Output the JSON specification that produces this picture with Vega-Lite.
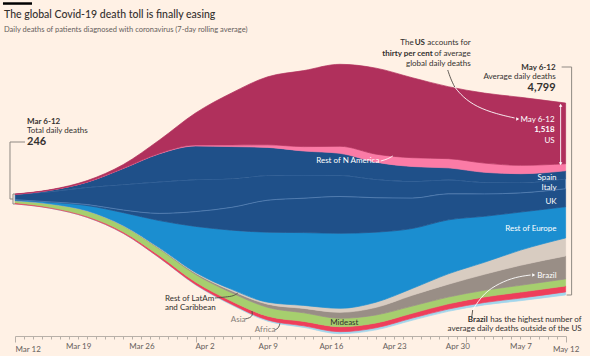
{
  "$schema": "https://vega.github.io/schema/vega-lite/v6.json",
  "width": 551,
  "height": 296,
  "autosize": {"type": "none"},
  "padding": {"left": 15, "top": 40, "right": 24, "bottom": 20},
  "background": "#fff1e5",
  "config": {"view": {"stroke": null}, "font": "Lato", "text": {"font": "Lato"}},
  "resolve": {"axis": {"x": "independent"}, "scale": {"y": "independent"}},
  "datasets": {
    "regions": [
      {"region": "Africa", "rank": 1}, {"region": "Asia", "rank": 2}, {"region": "Mideast", "rank": 3},
      {"region": "Brazil", "rank": 4}, {"region": "Rest of LatAm and Caribbean", "rank": 5},
      {"region": "Rest of Europe", "rank": 6}, {"region": "UK", "rank": 7}, {"region": "Italy", "rank": 8},
      {"region": "Spain", "rank": 9}, {"region": "Rest of N America", "rank": 10}, {"region": "US", "rank": 11}
    ],
    "deaths": [
      {"date": "2020-03-12", "Africa": 1, "Asia": 28, "Mideast": 55, "Brazil": 0, "Rest of LatAm and Caribbean": 0, "Rest of Europe": 20, "UK": 1, "Italy": 130, "Spain": 4, "Rest of N America": 1, "US": 6},
      {"date": "2020-03-16", "Africa": 2, "Asia": 20, "Mideast": 90, "Brazil": 0, "Rest of LatAm and Caribbean": 1, "Rest of Europe": 45, "UK": 5, "Italy": 260, "Spain": 35, "Rest of N America": 2, "US": 12},
      {"date": "2020-03-20", "Africa": 3, "Asia": 25, "Mideast": 135, "Brazil": 1, "Rest of LatAm and Caribbean": 3, "Rest of Europe": 130, "UK": 25, "Italy": 430, "Spain": 130, "Rest of N America": 4, "US": 35},
      {"date": "2020-03-24", "Africa": 5, "Asia": 35, "Mideast": 150, "Brazil": 5, "Rest of LatAm and Caribbean": 6, "Rest of Europe": 320, "UK": 65, "Italy": 640, "Spain": 400, "Rest of N America": 8, "US": 90},
      {"date": "2020-03-28", "Africa": 8, "Asia": 50, "Mideast": 170, "Brazil": 15, "Rest of LatAm and Caribbean": 12, "Rest of Europe": 680, "UK": 180, "Italy": 790, "Spain": 700, "Rest of N America": 15, "US": 330},
      {"date": "2020-04-01", "Africa": 15, "Asia": 60, "Mideast": 190, "Brazil": 30, "Rest of LatAm and Caribbean": 20, "Rest of Europe": 1150, "UK": 370, "Italy": 800, "Spain": 840, "Rest of N America": 25, "US": 800},
      {"date": "2020-04-05", "Africa": 22, "Asia": 75, "Mideast": 210, "Brazil": 50, "Rest of LatAm and Caribbean": 35, "Rest of Europe": 1480, "UK": 570, "Italy": 720, "Spain": 800, "Rest of N America": 40, "US": 1300},
      {"date": "2020-04-09", "Africa": 30, "Asia": 95, "Mideast": 220, "Brazil": 80, "Rest of LatAm and Caribbean": 50, "Rest of Europe": 1750, "UK": 800, "Italy": 620, "Spain": 700, "Rest of N America": 65, "US": 1700},
      {"date": "2020-04-13", "Africa": 40, "Asia": 110, "Mideast": 215, "Brazil": 110, "Rest of LatAm and Caribbean": 75, "Rest of Europe": 1820, "UK": 860, "Italy": 580, "Spain": 600, "Rest of N America": 110, "US": 1900},
      {"date": "2020-04-17", "Africa": 50, "Asia": 125, "Mideast": 210, "Brazil": 150, "Rest of LatAm and Caribbean": 100, "Rest of Europe": 1875, "UK": 920, "Italy": 530, "Spain": 550, "Rest of N America": 175, "US": 2050},
      {"date": "2020-04-21", "Africa": 52, "Asia": 120, "Mideast": 200, "Brazil": 190, "Rest of LatAm and Caribbean": 130, "Rest of Europe": 1750, "UK": 860, "Italy": 460, "Spain": 430, "Rest of N America": 200, "US": 2150},
      {"date": "2020-04-25", "Africa": 55, "Asia": 120, "Mideast": 180, "Brazil": 270, "Rest of LatAm and Caribbean": 170, "Rest of Europe": 1500, "UK": 760, "Italy": 420, "Spain": 370, "Rest of N America": 220, "US": 2000},
      {"date": "2020-04-29", "Africa": 57, "Asia": 130, "Mideast": 170, "Brazil": 320, "Rest of LatAm and Caribbean": 260, "Rest of Europe": 1350, "UK": 650, "Italy": 350, "Spain": 300, "Rest of N America": 230, "US": 1800},
      {"date": "2020-05-03", "Africa": 60, "Asia": 140, "Mideast": 165, "Brazil": 400, "Rest of LatAm and Caribbean": 300, "Rest of Europe": 1150, "UK": 560, "Italy": 290, "Spain": 250, "Rest of N America": 230, "US": 1750},
      {"date": "2020-05-07", "Africa": 65, "Asia": 150, "Mideast": 170, "Brazil": 500, "Rest of LatAm and Caribbean": 380, "Rest of Europe": 950, "UK": 480, "Italy": 260, "Spain": 220, "Rest of N America": 210, "US": 1700},
      {"date": "2020-05-12", "Africa": 75, "Asia": 150, "Mideast": 175, "Brazil": 575, "Rest of LatAm and Caribbean": 450, "Rest of Europe": 780, "UK": 450, "Italy": 250, "Spain": 200, "Rest of N America": 175, "US": 1518}
    ]
  },
  "encoding": {
    "x": {"field": "date", "type": "temporal", "axis": null,
      "scale": {"type": "utc", "nice": false, "domain": [{"year": 2020, "month": "mar", "date": 12, "utc": true}, {"year": 2020, "month": "may", "date": 12, "hours": 1, "utc": true}]}},
    "y": {"field": "v", "type": "quantitative", "axis": null, "scale": {"domain": [-3425, 3975], "nice": false, "zero": false}}
  },
  "layer": [
    {
      "data": {"name": "deaths"},
      "transform": [
        {"fold": ["Africa", "Asia", "Mideast", "Brazil", "Rest of LatAm and Caribbean", "Rest of Europe", "UK", "Italy", "Spain", "Rest of N America", "US"], "as": ["region", "deaths"]},
        {"lookup": "region", "from": {"data": {"name": "regions"}, "key": "region", "fields": ["rank"]}}
      ],
      "mark": {"type": "area", "interpolate": "monotone", "strokeWidth": 0.7},
      "encoding": {
        "x": {"field": "date", "type": "temporal",
          "scale": {"type": "utc", "nice": false, "domain": [{"year": 2020, "month": "mar", "date": 12, "utc": true}, {"year": 2020, "month": "may", "date": 12, "hours": 1, "utc": true}]},
          "axis": {"orient": "bottom", "title": null, "grid": false,
            "tickCount": {"interval": "day", "step": 1},
            "labelExpr": "(round((time(datum.value) - 1583971200000)/86400000) % 7 == 0 || round((time(datum.value) - 1583971200000)/86400000) == 61) ? utcFormat(datum.value, '%b %-d') : ''",
            "labelOverlap": false, "labelFlush": false, "labelBound": false,
            "labelAlign": {"condition": {"test": "round((time(datum.value) - 1583971200000)/86400000) == 0", "value": "left"}, "value": "center"},
            "tickSize": {"condition": {"test": "utcdate(datum.value) == 1 || round((time(datum.value) - 1583971200000)/86400000) == 0 || round((time(datum.value) - 1583971200000)/86400000) == 61", "value": 6}, "value": 3},
            "domainColor": "#b8b0a8", "tickColor": "#b8b0a8", "labelColor": "#66605c", "labelFontSize": 8, "labelFont": "Lato", "labelPadding": 3}},
        "y": {"field": "deaths", "type": "quantitative", "stack": "center", "axis": null, "scale": {"domain": [-57.5, 7342.5], "nice": false, "zero": false}},
        "fill": {"field": "region", "legend": null,
          "scale": {"domain": ["Africa", "Asia", "Mideast", "Brazil", "Rest of LatAm and Caribbean", "Rest of Europe", "UK", "Italy", "Spain", "Rest of N America", "US"],
            "range": ["#a2d6ec", "#ee3f5b", "#a6cf6e", "#998e86", "#d8ccc1", "#1b8ed0", "#1f5089", "#1f5089", "#1f5089", "#fb7ba6", "#b0305c"]}},
        "stroke": {"field": "region", "legend": null,
          "scale": {"domain": ["Africa", "Asia", "Mideast", "Brazil", "Rest of LatAm and Caribbean", "Rest of Europe", "UK", "Italy", "Spain", "Rest of N America", "US"],
            "range": ["#a2d6ec", "#ee3f5b", "#a6cf6e", "#998e86", "#d8ccc1", "#1b8ed0", "#1f5089", "#5f8abd", "#1f5089", "#fb7ba6", "#b0305c"]}},
        "order": {"field": "rank", "type": "quantitative"}
      }
    },
    {
      "data": {"values": [{"date": "2020-03-10T16:00Z", "date2": "2020-03-13T21:10Z", "v": 4887}]},
      "mark": {"type": "rule", "color": "#000000", "strokeWidth": 2.5},
      "encoding": {"x2": {"field": "date2"}}
    },
    {
      "data": {"values": [
        {"date": "2020-03-10T18:45Z", "v": 4517, "label": "The global Covid-19 death toll is finally easing"}
      ]},
      "mark": {"type": "text", "align": "left", "baseline": "alphabetic", "fontSize": 10.5, "fontWeight": 500, "color": "#33302e"},
      "encoding": {"text": {"field": "label"}}
    },
    {
      "data": {"values": [
        {"date": "2020-03-10T18:45Z", "v": 4175, "label": "Daily deaths of patients diagnosed with coronavirus (7-day rolling average)"}
      ]},
      "mark": {"type": "text", "align": "left", "baseline": "alphabetic", "fontSize": 7.5, "color": "#66605c"},
      "encoding": {"text": {"field": "label"}}
    },
    {
      "data": {"values": [
        {"path": "lb", "i": 1, "date": "2020-03-13T02:34Z", "v": 1425},
        {"path": "lb", "i": 2, "date": "2020-03-11T10:40Z", "v": 1425},
        {"path": "lb", "i": 3, "date": "2020-03-11T10:40Z", "v": 0},
        {"path": "lb", "i": 4, "date": "2020-03-11T18:40Z", "v": 0},
        {"path": "lh", "i": 1, "date": "2020-03-12T00:00Z", "v": 125},
        {"path": "lh", "i": 2, "date": "2020-03-11T18:40Z", "v": 125},
        {"path": "lh", "i": 3, "date": "2020-03-11T18:40Z", "v": -125},
        {"path": "lh", "i": 4, "date": "2020-03-12T00:00Z", "v": -125},
        {"path": "rb", "i": 1, "date": "2020-05-11T13:22Z", "v": 3300},
        {"path": "rb", "i": 2, "date": "2020-05-12T15:56Z", "v": 3300},
        {"path": "rb", "i": 3, "date": "2020-05-12T15:56Z", "v": -2400},
        {"path": "rb", "i": 4, "date": "2020-05-12T02:38Z", "v": -2400}
      ]},
      "mark": {"type": "line", "interpolate": "linear", "color": "#8f8983", "strokeWidth": 1},
      "encoding": {"detail": {"field": "path"}, "order": {"field": "i", "type": "quantitative"}}
    },
    {
      "data": {"values": [
        {"path": "usn", "i": 1, "date": "2020-04-28T22:34Z", "v": 3225},
        {"path": "usn", "i": 2, "date": "2020-04-29T06:29Z", "v": 3000},
        {"path": "usn", "i": 3, "date": "2020-04-29T17:03Z", "v": 2800},
        {"path": "br", "i": 1, "date": "2020-05-01T14:10Z", "v": -2975},
        {"path": "br", "i": 2, "date": "2020-05-01T16:50Z", "v": -2775},
        {"path": "la", "i": 1, "date": "2020-04-03T03:22Z", "v": -2475},
        {"path": "la", "i": 2, "date": "2020-04-04T08:38Z", "v": -2450},
        {"path": "la", "i": 3, "date": "2020-04-05T05:46Z", "v": -2425},
        {"path": "la", "i": 4, "date": "2020-04-05T16:34Z", "v": -2350},
        {"path": "as", "i": 1, "date": "2020-04-06T11:02Z", "v": -3000},
        {"path": "as", "i": 2, "date": "2020-04-07T00:29Z", "v": -2975},
        {"path": "as", "i": 3, "date": "2020-04-07T08:24Z", "v": -2900},
        {"path": "as", "i": 4, "date": "2020-04-07T05:46Z", "v": -2800},
        {"path": "af", "i": 1, "date": "2020-04-09T18:43Z", "v": -3275},
        {"path": "af", "i": 2, "date": "2020-04-10T05:31Z", "v": -3225},
        {"path": "af", "i": 3, "date": "2020-04-10T08:10Z", "v": -3112}
      ]},
      "mark": {"type": "line", "interpolate": "basis", "color": "#4e4944", "strokeWidth": 0.9},
      "encoding": {"detail": {"field": "path"}, "order": {"field": "i", "type": "quantitative"}}
    },
    {
      "data": {"values": [
        {"path": "usn", "i": 1, "date": "2020-04-29T17:03Z", "v": 2800},
        {"path": "usn", "i": 2, "date": "2020-04-30T14:24Z", "v": 2550},
        {"path": "usn", "i": 3, "date": "2020-05-02T03:36Z", "v": 2300},
        {"path": "usn", "i": 4, "date": "2020-05-04T08:38Z", "v": 2125},
        {"path": "usn", "i": 5, "date": "2020-05-06T08:24Z", "v": 2025},
        {"path": "br", "i": 1, "date": "2020-05-01T16:50Z", "v": -2775},
        {"path": "br", "i": 2, "date": "2020-05-02T22:00Z", "v": -2350},
        {"path": "br", "i": 3, "date": "2020-05-04T16:34Z", "v": -2100},
        {"path": "br", "i": 4, "date": "2020-05-06T11:02Z", "v": -1950},
        {"path": "br", "i": 5, "date": "2020-05-08T02:53Z", "v": -1900},
        {"path": "rna", "i": 1, "date": "2020-04-21T12:28Z", "v": 950},
        {"path": "rna", "i": 2, "date": "2020-04-22T07:00Z", "v": 1000},
        {"path": "rna", "i": 3, "date": "2020-04-22T20:24Z", "v": 1075},
        {"path": "dbl", "i": 1, "date": "2020-05-11T10:43Z", "v": 2325},
        {"path": "dbl", "i": 2, "date": "2020-05-11T10:43Z", "v": 900}
      ]},
      "mark": {"type": "line", "interpolate": "basis", "color": "#ffffff", "strokeWidth": 0.9},
      "encoding": {"detail": {"field": "path"}, "order": {"field": "i", "type": "quantitative"}}
    },
    {
      "data": {"values": [
        {"date": "2020-05-06T16:34Z", "v": 2000},
        {"date": "2020-05-08T11:02Z", "v": -1900}
      ]},
      "mark": {"type": "point", "shape": "triangle-right", "filled": true, "size": 12, "color": "#ffffff", "opacity": 1}
    },
    {
      "data": {"values": [{"date": "2020-05-11T10:43Z", "v": 2345}]},
      "mark": {"type": "point", "shape": "triangle-up", "filled": true, "size": 12, "color": "#ffffff", "opacity": 1}
    },
    {
      "data": {"values": [{"date": "2020-05-11T10:43Z", "v": 880}]},
      "mark": {"type": "point", "shape": "triangle-down", "filled": true, "size": 12, "color": "#ffffff", "opacity": 1}
    },
    {
      "data": {"values": [
        {"date": "2020-03-13T08:00Z", "v": 1650, "label": "Total daily deaths"},
        {"date": "2020-03-28T14:38Z", "v": -2550, "label": "Rest of LatAm"},
        {"date": "2020-03-28T14:38Z", "v": -2775, "label": "and Caribbean"}
      ]},
      "mark": {"type": "text", "align": "left", "baseline": "alphabetic", "fontSize": 8, "color": "#33302e"},
      "encoding": {"text": {"field": "label"}}
    },
    {
      "data": {"values": [
        {"date": "2020-03-13T08:00Z", "v": 1875, "label": "Mar 6-12"}
      ]},
      "mark": {"type": "text", "align": "left", "baseline": "alphabetic", "fontSize": 8, "fontWeight": "bold", "color": "#33302e"},
      "encoding": {"text": {"field": "label"}}
    },
    {
      "data": {"values": [
        {"date": "2020-03-13T08:00Z", "v": 1350, "label": "246"}
      ]},
      "mark": {"type": "text", "align": "left", "baseline": "alphabetic", "fontSize": 11, "fontWeight": "bold", "color": "#33302e"},
      "encoding": {"text": {"field": "label"}}
    },
    {
      "data": {"values": [
        {"date": "2020-05-10T21:26Z", "v": 2700, "label": "4,799"}
      ]},
      "mark": {"type": "text", "align": "right", "baseline": "alphabetic", "fontSize": 11, "fontWeight": "bold", "color": "#33302e"},
      "encoding": {"text": {"field": "label"}}
    },
    {
      "data": {"values": [
        {"date": "2020-05-10T21:26Z", "v": 3225, "label": "May 6-12"},
        {"date": "2020-04-26T10:00Z", "v": 3850, "label": "US"},
        {"date": "2020-04-27T06:43Z", "v": 3575, "label": "thirty per cent"},
        {"date": "2020-05-03T08:40Z", "v": -3075, "label": "Brazil"}
      ]},
      "mark": {"type": "text", "align": "right", "baseline": "alphabetic", "fontSize": 8, "fontWeight": "bold", "color": "#33302e"},
      "encoding": {"text": {"field": "label"}}
    },
    {
      "data": {"values": [
        {"date": "2020-05-10T21:26Z", "v": 3000, "label": "Average daily deaths"},
        {"date": "2020-04-25T04:00Z", "v": 3850, "label": "The"},
        {"date": "2020-05-01T11:32Z", "v": 3850, "label": "accounts for"},
        {"date": "2020-05-01T11:32Z", "v": 3575, "label": "of average"},
        {"date": "2020-05-01T11:32Z", "v": 3325, "label": "global daily deaths"},
        {"date": "2020-05-13T18:29Z", "v": -3075, "label": "has the highest number of"},
        {"date": "2020-05-13T18:29Z", "v": -3300, "label": "average daily deaths outside of the US"}
      ]},
      "mark": {"type": "text", "align": "right", "baseline": "alphabetic", "fontSize": 8, "color": "#33302e"},
      "encoding": {"text": {"field": "label"}}
    },
    {
      "data": {"values": [
        {"date": "2020-05-10T18:43Z", "v": 1925, "label": "May 6-12"},
        {"date": "2020-05-10T18:43Z", "v": 1400, "label": "US"},
        {"date": "2020-05-11T00:00Z", "v": 475, "label": "Spain"},
        {"date": "2020-05-11T00:00Z", "v": 225, "label": "Italy"},
        {"date": "2020-05-11T00:00Z", "v": -125, "label": "UK"},
        {"date": "2020-05-11T00:00Z", "v": -800, "label": "Rest of Europe"},
        {"date": "2020-05-11T00:00Z", "v": -1975, "label": "Brazil"}
      ]},
      "mark": {"type": "text", "align": "right", "baseline": "alphabetic", "fontSize": 8, "color": "#ffffff"},
      "encoding": {"text": {"field": "label"}}
    },
    {
      "data": {"values": [
        {"date": "2020-05-10T18:43Z", "v": 1675, "label": "1,518"}
      ]},
      "mark": {"type": "text", "align": "right", "baseline": "alphabetic", "fontSize": 8, "fontWeight": "bold", "color": "#ffffff"},
      "encoding": {"text": {"field": "label"}}
    },
    {
      "data": {"values": [
        {"date": "2020-04-17T20:50Z", "v": 900, "label": "Rest of N America"}
      ]},
      "mark": {"type": "text", "align": "center", "baseline": "alphabetic", "fontSize": 8, "color": "#ffffff"},
      "encoding": {"text": {"field": "label"}}
    },
    {
      "data": {"values": [
        {"date": "2020-04-17T11:31Z", "v": -3150, "label": "Mideast"}
      ]},
      "mark": {"type": "text", "align": "center", "baseline": "alphabetic", "fontSize": 8, "color": "#33302e"},
      "encoding": {"text": {"field": "label"}}
    },
    {
      "data": {"values": [
        {"date": "2020-04-04T21:50Z", "v": -3075, "label": "Asia"},
        {"date": "2020-04-07T13:41Z", "v": -3325, "label": "Africa"}
      ]},
      "mark": {"type": "text", "align": "left", "baseline": "alphabetic", "fontSize": 8, "color": "#857e78"},
      "encoding": {"text": {"field": "label"}}
    }
  ]
}
